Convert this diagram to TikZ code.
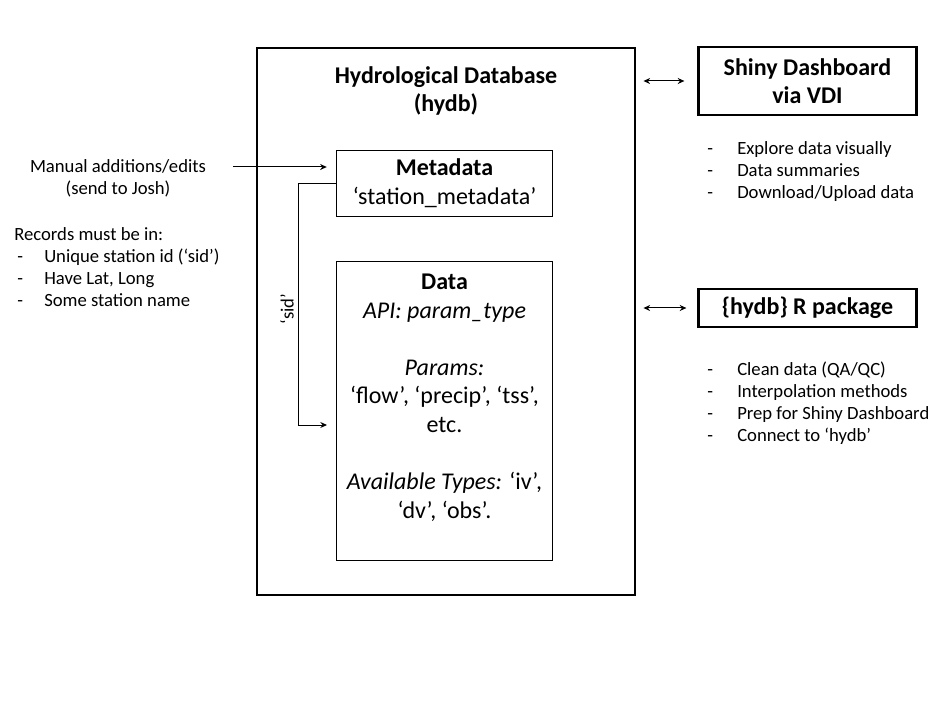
\documentclass[tikz,border=0pt]{standalone}
\usepackage{fontspec}
\setmainfont{Carlito}
\usetikzlibrary{arrows.meta, positioning}
\newcommand{\dashitem}[2]{\makebox[#1][l]{-}#2}

\begin{document}
\begin{tikzpicture}[
  x=0.75pt, y=-0.75pt,
  bigbox/.style={rectangle, draw, line width=2.2pt, minimum width=283.5pt, minimum height=410.25pt},
  toolbox/.style={rectangle, draw, line width=2.2pt, minimum width=163pt, align=center, font=\fontsize{18}{21}\selectfont\bfseries},
  tablebox/.style={rectangle, draw, line width=1.1pt, minimum width=162pt, align=center, font=\fontsize{18}{21.75}\selectfont},
  note/.style={inner sep=0pt, font=\fontsize{14}{16.5}\selectfont},
  conn/.style={draw, line width=0.75pt, -{Stealth[length=5pt, width=4.5pt]}},
  twoway/.style={draw, line width=0.75pt, {Stealth[length=5pt, width=4.5pt]}-{Stealth[length=5pt, width=4.5pt]}}
]
  \useasboundingbox (0,0) rectangle (943,720);

  % central database
  \node[bigbox] (hydb) at (446,321.5) {};
  % base anchor = baseline of last line
  \node[anchor=base, align=center, inner sep=0pt, font=\fontsize{18}{21}\selectfont\bfseries] (hydbtitle) at (446,112) {Hydrological Database\\(hydb)};

  \node[tablebox, minimum height=49.5pt] (metadata) at (444.5,183.5) {\textbf{Metadata}\\`station\_metadata'};
  \node[tablebox, minimum height=224pt] (data) at (444.5,411) {};
  \node[anchor=base, align=center, inner sep=0pt, font=\fontsize{18}{21.4}\selectfont] (datatext) at (444.5,518)
    {\textbf{Data}\\\textit{API: param\_type}\\[21.4pt]\textit{Params:}\\`flow', `precip', `tss',\\etc.\\[21.4pt]\textit{Available Types:} `iv',\\`dv', `obs'.};

  % tools
  \node[toolbox, minimum height=51pt] (shiny) at (807.5,81) {Shiny Dashboard\\via VDI};
  \node[toolbox, minimum height=28.5pt] (pkg) at (807.5,308) {\{hydb\} R package};

  % notes
  \node[note, anchor=base, align=center] (manual) at (118,195) {Manual additions/edits\\(send to Josh)};
  \node[note, anchor=base west, align=left] (records) at (14,307)
    {Records must be in:\\
     \hspace*{2.25pt}\dashitem{20.25pt}{Unique station id (`sid')}\\
     \hspace*{2.25pt}\dashitem{20.25pt}{Have Lat, Long}\\
     \hspace*{2.25pt}\dashitem{20.25pt}{Some station name}};
  \node[note, anchor=base west, align=left] (shinynotes) at (707,199)
    {\dashitem{22.5pt}{Explore data visually}\\
     \dashitem{22.5pt}{Data summaries}\\
     \dashitem{22.5pt}{Download/Upload data}};
  \node[note, anchor=base west, align=left] (pkgnotes) at (707,441)
    {\dashitem{22.5pt}{Clean data (QA/QC)}\\
     \dashitem{22.5pt}{Interpolation methods}\\
     \dashitem{22.5pt}{Prep for Shiny Dashboard}\\
     \dashitem{22.5pt}{Connect to `hydb'}};

  % connectors
  \coordinate (manualout) at (233,167);
  \coordinate (datain) at (336,425);
  \draw[conn, shorten >=6.75pt] (manualout) -- (metadata.west |- manualout);
  \draw[conn, shorten >=6.75pt] (metadata.west) -- ++(-37,0) |- (datain);
  \node[note, rotate=90] (sidlabel) at (287,309) {`sid'};

  \draw[twoway, shorten <=5.25pt, shorten >=9.75pt] (hydb.east |- shiny) -- (shiny.west);
  \draw[twoway, shorten <=5.25pt, shorten >=8.25pt] (hydb.east |- pkg) -- (pkg.west);
\end{tikzpicture}
\end{document}
